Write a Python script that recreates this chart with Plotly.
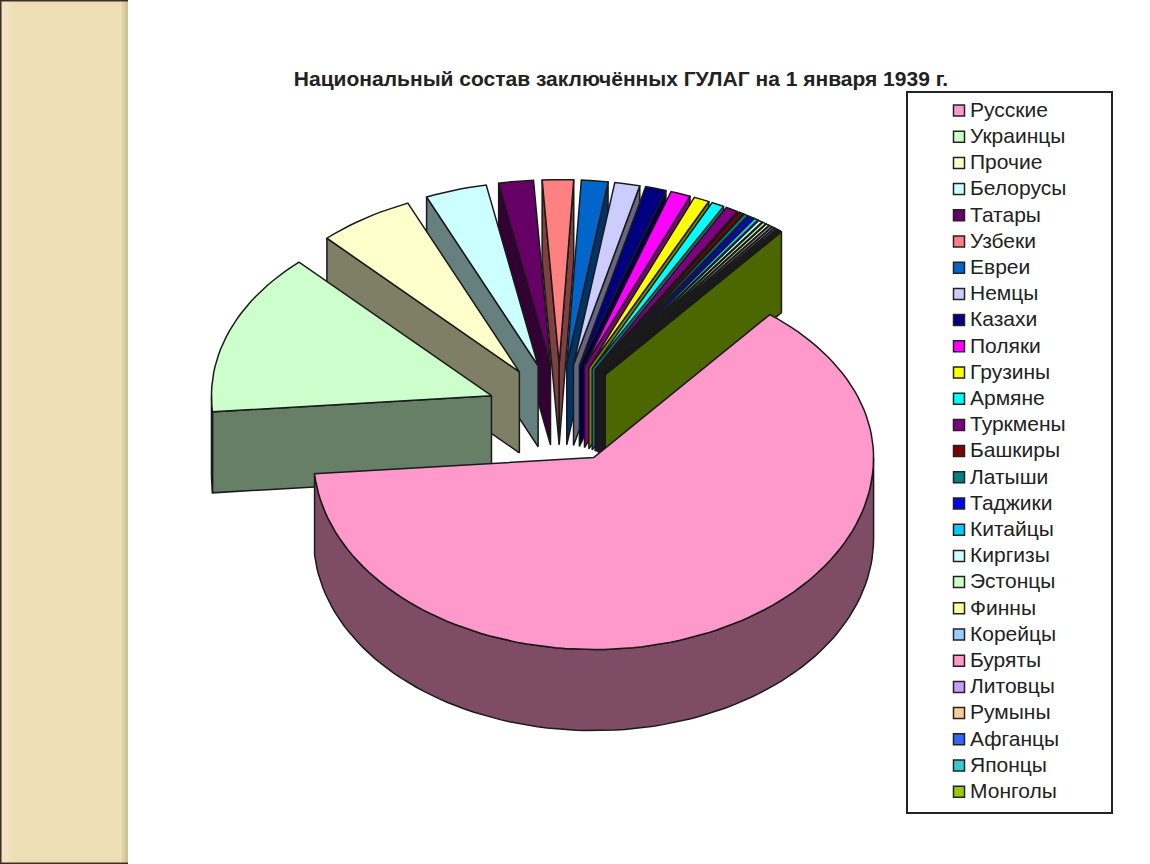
import math
import plotly.graph_objects as go

TITLE = "Национальный состав заключённых ГУЛАГ на 1 января 1939 г."

categories = ["Русские", "Украинцы", "Прочие", "Белорусы", "Татары", "Узбеки", "Евреи", "Немцы", "Казахи",
              "Поляки", "Грузины", "Армяне", "Туркмены", "Башкиры", "Латыши", "Таджики", "Китайцы", "Киргизы",
              "Эстонцы", "Финны", "Корейцы", "Буряты", "Литовцы", "Румыны", "Афганцы", "Японцы", "Монголы"]
values = [62.92, 14.3, 5.55, 3.56, 2.0, 1.8, 1.53, 1.45, 1.2,
          1.15, 0.9, 0.72, 0.72, 0.25, 0.25, 0.3, 0.25, 0.22,
          0.2, 0.18, 0.16, 0.14, 0.12, 0.1, 0.08, 0.06, 0.04]
colors = ["#FF99CC", "#CCFFCC", "#FFFFCC", "#CCFFFF", "#660066", "#FF8080", "#0066CC", "#CCCCFF", "#000080",
          "#FF00FF", "#FFFF00", "#00FFFF", "#800080", "#800000", "#008080", "#0000FF", "#00CCFF", "#CCFFFF",
          "#CCFFCC", "#FFFF99", "#99CCFF", "#FF99CC", "#CC99FF", "#FFCC99", "#3366FF", "#33CCCC", "#99CC00"]

# pie projection, in page pixels
CX, CY, RX, RY, RY_BACK, DEPTH, EXPLODE, START = 559.5, 413.5, 280.0, 192.0, 184.0, 81.0, 0.26, 51.0


def darker(hex_colour):
    r, g, b = (int(hex_colour[i:i + 2], 16) // 2 for i in (1, 3, 5))
    return f"rgb({r},{g},{b})"


def poly(xs, ys, fill):
    return go.Scatter(x=xs, y=ys, mode="lines", fill="toself", fillcolor=fill,
                      line=dict(color="#1A1A1A", width=1.5), hoverinfo="skip", showlegend=False)


def rim(cx, cy, deg, dy=0.0):
    t = math.radians(deg)
    s = math.sin(t)
    return cx + RX * math.cos(t), cy - (RY_BACK if s > 0 else RY) * s + dy


def arc(cx, cy, a1, a2, dy=0.0):
    n = max(2, int(abs(a1 - a2) / 2) + 2)
    pts = [rim(cx, cy, a1 + (a2 - a1) * i / (n - 1), dy) for i in range(n)]
    return [p[0] for p in pts], [p[1] for p in pts]


total = sum(values)
slices = []
angle = START
for cat, val, col in zip(categories, values, colors):
    end = angle - 360.0 * val / total
    slices.append((angle, end, col))
    angle = end

# rear slices first, the front slice last
order = sorted(slices, key=lambda s: -math.sin(math.radians((s[0] + s[1]) / 2)))

fig = go.Figure()
for a1, a2, col in order:
    mid = math.radians((a1 + a2) / 2)
    ax = CX + EXPLODE * RX * math.cos(mid)
    ay = CY - EXPLODE * RY * math.sin(mid)
    side = darker(col)
    for edge, visible in ((a1, math.cos(math.radians(a1)) < 0), (a2, math.cos(math.radians(a2)) > 0)):
        if visible:
            ex, ey = rim(ax, ay, edge)
            fig.add_trace(poly([ax, ex, ex, ax, ax], [ay, ey, ey + DEPTH, ay + DEPTH, ay], side))
    # outer curved wall: only the part of the rim that lies in the front half
    lo, hi = a2, a1
    for k in (0, -360, 360):
        f_hi = min(hi, 360 + k)
        f_lo = max(lo, 180 + k)
        if f_hi > f_lo:
            x1, y1 = arc(ax, ay, f_hi, f_lo)
            x2, y2 = arc(ax, ay, f_lo, f_hi, DEPTH)
            fig.add_trace(poly(x1 + x2 + x1[:1], y1 + y2 + y1[:1], side))
    xs, ys = arc(ax, ay, a1, a2)
    fig.add_trace(poly([ax] + xs + [ax], [ay] + ys + [ay], col))

# legend column
LEG_Y0, LEG_STEP = 110.5, 26.2
leg_y = [LEG_Y0 + i * LEG_STEP for i in range(len(categories))]
fig.add_trace(go.Scatter(x=[959] * len(categories), y=leg_y, mode="markers",
                         marker=dict(symbol="square", size=11, color=colors,
                                     line=dict(color="#222222", width=1.5)),
                         hoverinfo="skip", showlegend=False))
fig.add_trace(go.Scatter(x=[970] * len(categories), y=[v + 1 for v in leg_y], mode="text",
                         text=categories, textposition="middle right",
                         textfont=dict(family="Liberation Sans", size=21, color="#222222"),
                         hoverinfo="skip", showlegend=False))

shapes = [
    dict(type="rect", x0=0, x1=128, y0=0, y1=864, fillcolor="#EEDFB6", line_width=0, layer="below"),
    dict(type="rect", x0=2, x1=9, y0=0, y1=864, fillcolor="#F3E3C2", line_width=0, layer="below"),
    dict(type="rect", x0=122, x1=125, y0=0, y1=864, fillcolor="#DFD0A8", line_width=0, layer="below"),
    dict(type="rect", x0=125, x1=128, y0=0, y1=864, fillcolor="#CFC199", line_width=0, layer="below"),
    dict(type="rect", x0=0, x1=1.5, y0=0, y1=864, fillcolor="#3A3028", line_width=0, layer="below"),
    dict(type="rect", x0=0, x1=128, y0=0, y1=1.5, fillcolor="#3A3028", line_width=0, layer="below"),
    dict(type="rect", x0=0, x1=128, y0=862.5, y1=864, fillcolor="#3A3028", line_width=0, layer="below"),
    dict(type="rect", x0=907, x1=1112, y0=92, y1=813, fillcolor="rgba(0,0,0,0)",
         line=dict(color="#222222", width=2), layer="below"),
]

fig.update_layout(
    width=1150, height=864, margin=dict(l=0, r=0, t=0, b=0),
    paper_bgcolor="#FFFFFF", plot_bgcolor="#FFFFFF", showlegend=False,
    title=dict(text=f"<b>{TITLE}</b>", x=621 / 1150, xanchor="center", y=1 - 79 / 864, yanchor="middle",
               font=dict(family="Liberation Sans", size=21, color="#222222")),
    xaxis=dict(range=[0, 1150], visible=False, fixedrange=True),
    yaxis=dict(range=[864, 0], visible=False, fixedrange=True),
    shapes=shapes,
)
fig.write_html("out.html", config={"displayModeBar": False},
               post_script="document.body.style.margin='0';document.body.style.overflow='hidden';")
